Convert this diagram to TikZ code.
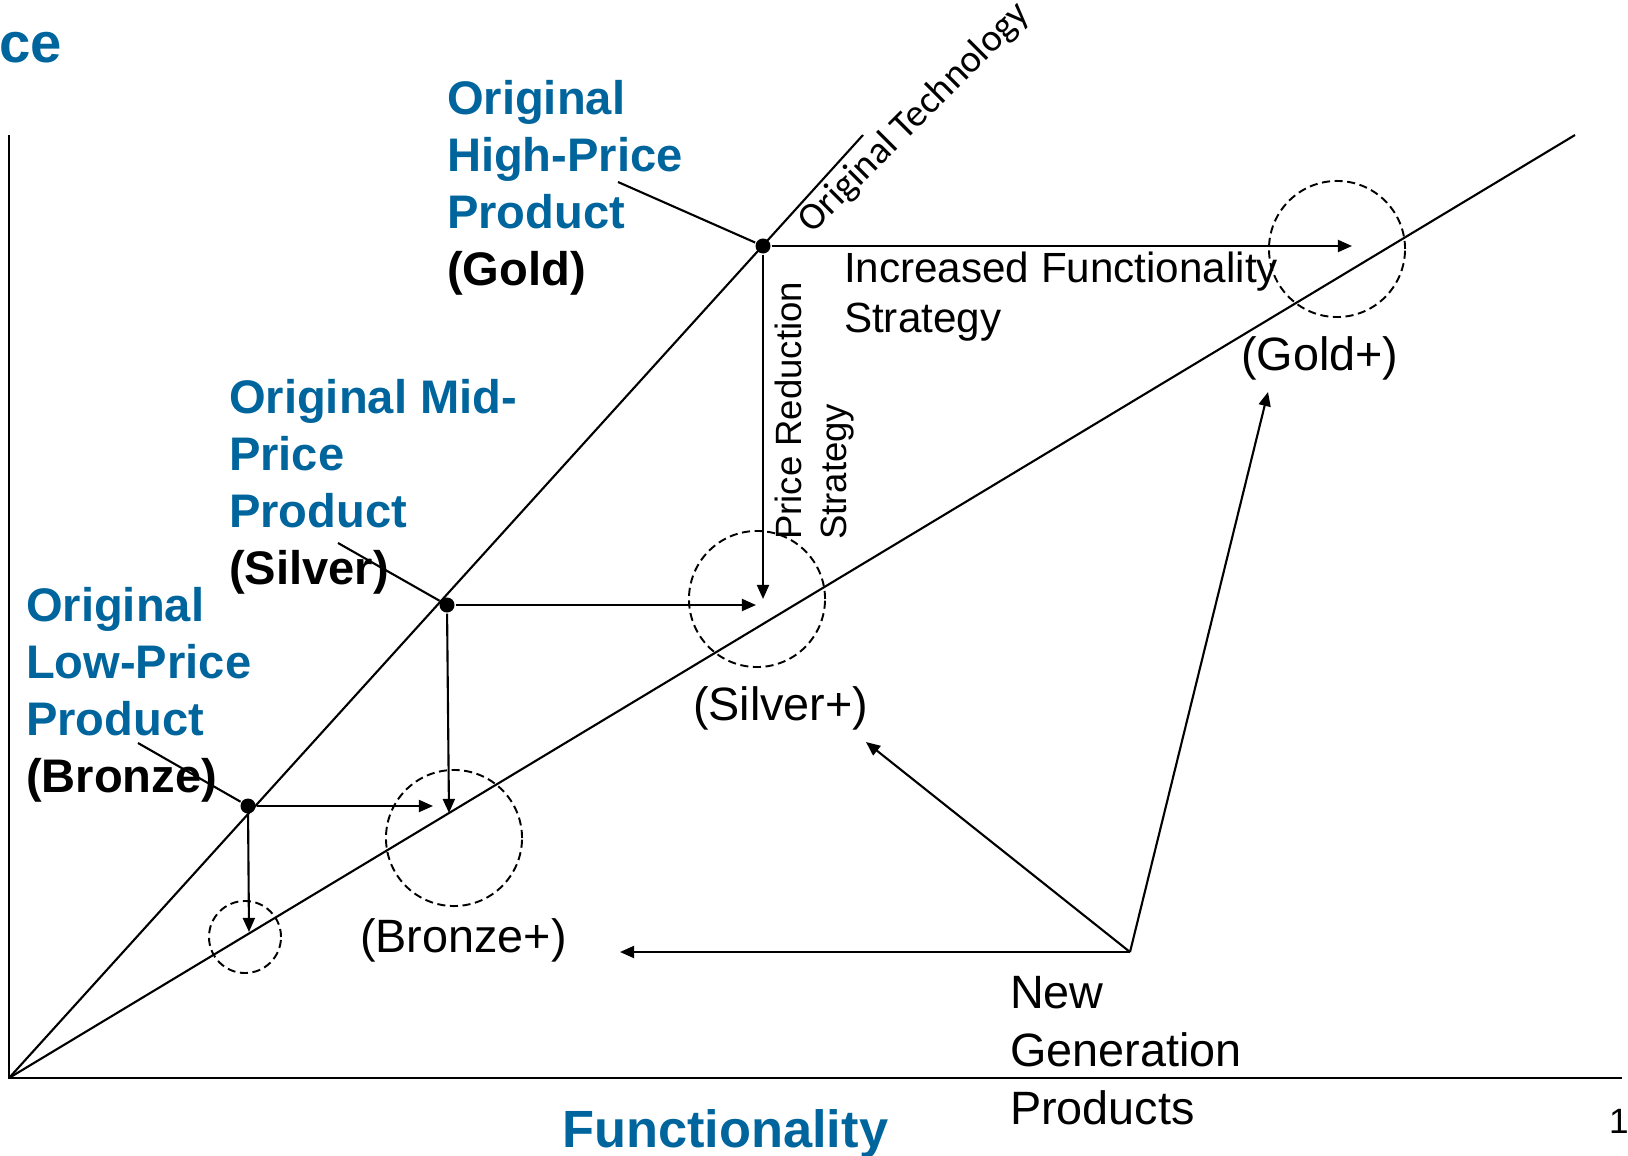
\documentclass[tikz,border=0pt]{standalone}
\usepackage{fontspec}
\setmainfont{Liberation Sans}
\newfontfamily\carlito{Carlito}
\usetikzlibrary{arrows.meta}
\definecolor{titleblue}{RGB}{0,101,157}
\tikzset{>={Triangle[length=4pt,width=3.4pt]}}
\tikzset{
	dot/.style={circle, fill=black, inner sep=0pt, minimum size=0.15cm},
	zone/.style={line width=0.55pt, dash pattern=on 2.3pt off 1.3pt},
	prodlabel/.style={anchor=north west, inner sep=0pt, align=left, text=titleblue, font=\fontsize{13.4}{16.2}\selectfont\bfseries},
	pluslabel/.style={anchor=base west, inner sep=0pt, font=\fontsize{13.3}{16.5}\selectfont}
}

\begin{document}
\begin{tikzpicture}[x=0.01cm, y=-0.01cm, line width=0.6pt]
	\useasboundingbox (0,0) rectangle (1628,1155);
	\coordinate (O) at (9,1078);
	\coordinate (yTop) at (9,135);
	\coordinate (xEnd) at (1622,1078);
	\coordinate (oldTop) at (863,135);
	\coordinate (newTop) at (1575,135);
	\draw [line width=0.75pt] (yTop) -- (O) -- (xEnd);
	\draw (O) -- (oldTop);
	\draw (O) -- (newTop);
	\node (oldtech) [rotate=45, anchor=base west, inner sep=0pt, font=\carlito\fontsize{11}{13}\selectfont] at (812,235) {Original Technology};
	\foreach \cx/\cy/\r in {1337/249/0.68cm, 757/599/0.68cm, 454/838/0.68cm, 245/937/0.36cm}
	\draw [zone] (\cx,\cy) circle (\r);
	\node (gold) [dot] at (763,246) {};
	\node (silver) [dot] at (447,605) {};
	\node (bronze) [dot] at (248,806) {};
	\coordinate (goldR) at (1352,246);
	\coordinate (goldD) at (763,599);
	\coordinate (silverR) at (756,605);
	\coordinate (silverD) at (449,813);
	\coordinate (bronzeR) at (433,806);
	\coordinate (bronzeD) at (249,932);
	\draw [->] (gold) -- (goldR);
	\draw [->] (gold) -- (goldD);
	\draw [->] (silver) -- (silverR);
	\draw [->] (silver) -- (silverD);
	\draw [->] (bronze) -- (bronzeR);
	\draw [->] (bronze) -- (bronzeD);
	\node (goldlabel) [prodlabel] at (446,79) {Original\\High-Price\\Product\\\textcolor{black}{(Gold)}};
	\node (silverlabel) [prodlabel] at (228,378) {Original Mid-\\Price\\Product\\\textcolor{black}{(Silver)}};
	\node (bronzelabel) [prodlabel] at (25,586) {Original\\Low-Price\\Product\\\textcolor{black}{(Bronze)}};
	\coordinate (goldLead) at (618,182);
	\coordinate (silverLead) at (338,543);
	\coordinate (bronzeLead) at (138,743);
	\draw (goldLead) -- (gold);
	\draw (silverLead) -- (silver);
	\draw (bronzeLead) -- (bronze);
	\node (incfunc) [anchor=north west, inner sep=0pt, align=left, font=\fontsize{12}{14.2}\selectfont] at (843,251) {Increased Functionality\\Strategy};
	\node (pricered) [rotate=90, anchor=north west, inner sep=0pt, align=left, font=\fontsize{10.4}{12.8}\selectfont] at (774,541) {Price Reduction\\Strategy};
	\node (goldplus) [pluslabel] at (1240,370) {(Gold+)};
	\node (silverplus) [pluslabel] at (692,720) {(Silver+)};
	\node (bronzeplus) [pluslabel] at (359,952) {(Bronze+)};
	\node (newgen) [anchor=north west, inner sep=0pt, align=left, font=\fontsize{13.3}{16.5}\selectfont] at (1009,975) {New\\Generation\\Products};
	\coordinate (ng) at (1130,952);
	\coordinate (ngB) at (620,952);
	\coordinate (ngS) at (866,742);
	\coordinate (ngG) at (1268,392);
	\draw [->] (ng) -- (ngB);
	\draw [->] (ng) -- (ngS);
	\draw [->] (ng) -- (ngG);
	\node (pricelabel) [anchor=base west, inner sep=0pt, text=titleblue, font=\fontsize{16}{16}\selectfont\bfseries] at (-2,63) {ce};
	\node (funclabel) [anchor=base west, inner sep=0pt, text=titleblue, font=\fontsize{14.9}{16}\selectfont\bfseries] at (561,1147) {Functionality};
	\node (pagenum) [anchor=base west, inner sep=0pt, font=\fontsize{10}{12}\selectfont] at (1608,1133) {1};
\end{tikzpicture}
\end{document}
